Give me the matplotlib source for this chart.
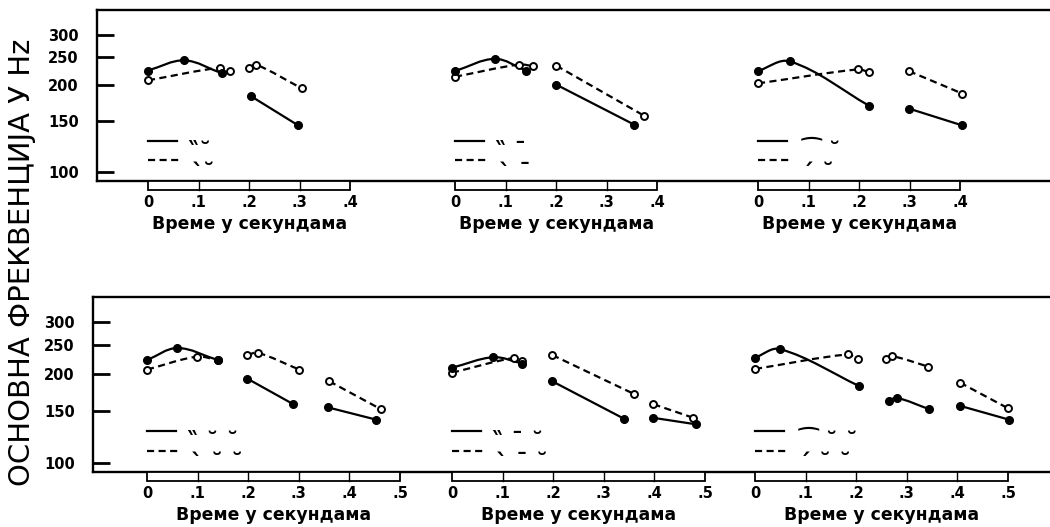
import numpy as np
import matplotlib
matplotlib.use("Agg")
import matplotlib.pyplot as plt
from matplotlib.path import Path
from matplotlib.patches import PathPatch, Rectangle

plt.rcParams['font.family'] = ['DejaVu Sans']

# frequency axis (log scale, Hz)
freq_ticks = [100, 150, 200, 250, 300]
freq_labels = ["100", "150", "200", "250", "300"]

# time scales under each panel (seconds)
time_ticks_top = [0.0, 0.1, 0.2, 0.3, 0.4]
time_labels_top = ["0", ".1", ".2", ".3", ".4"]
time_ticks_bottom = [0.0, 0.1, 0.2, 0.3, 0.4, 0.5]
time_labels_bottom = ["0", ".1", ".2", ".3", ".4", ".5"]

time_label = "Време у секундама"
freq_label = "ОСНОВНА ФРЕКВЕНЦИЈА У Hz"

# accent patterns for the two curves in every panel
# (\u00a0\u030f is a double grave accent on a no-break space)
legend_solid = ["\u00a0\u030f˘", "\u00a0\u030f ˉ", "⁀ ˘",
                "\u00a0\u030f ˘ ˘", "\u00a0\u030f ˉ ˘", "⁀ ˘ ˘"]
legend_dashed = ["ˋ˘", "ˋ ˉ", "ˊ ˘", "ˋ ˘ ˘", "ˋ ˉ ˘", "ˊ ˘ ˘"]

# F0 contours, one list per syllable
r1c1_solid_t = [[0.0, 0.072, 0.146], [0.204, 0.297]]
r1c1_solid_f = [[225, 244, 220], [183, 145]]
r1c1_dashed_t = [[0.0, 0.142, 0.163], [0.2, 0.213, 0.304]]
r1c1_dashed_f = [[208, 230, 224], [230, 236, 195]]

r1c2_solid_t = [[0.0, 0.079, 0.14], [0.2, 0.354]]
r1c2_solid_f = [[224, 247, 225], [201, 146]]
r1c2_dashed_t = [[0.0, 0.126, 0.155], [0.2, 0.373]]
r1c2_dashed_f = [[214, 236, 233], [234, 157]]

r1c3_solid_t = [[0.0, 0.063, 0.219], [0.298, 0.404]]
r1c3_solid_f = [[224, 242, 170], [166, 145]]
r1c3_dashed_t = [[0.0, 0.197, 0.22], [0.298, 0.404]]
r1c3_dashed_f = [[203, 227, 222], [224, 187]]

r2c1_solid_t = [[0.0, 0.06, 0.14], [0.198, 0.289], [0.358, 0.453]]
r2c1_solid_f = [[223, 245, 223], [193, 158], [154, 140]]
r2c1_dashed_t = [[0.0, 0.098, 0.14], [0.198, 0.219, 0.301], [0.36, 0.462]]
r2c1_dashed_f = [[207, 229, 223], [232, 236, 207], [189, 152]]

r2c2_solid_t = [[0.0, 0.082, 0.139], [0.198, 0.34], [0.398, 0.482]]
r2c2_solid_f = [[210, 228, 217], [189, 141], [142, 135]]
r2c2_dashed_t = [[0.0, 0.123, 0.138], [0.198, 0.36], [0.398, 0.477]]
r2c2_dashed_f = [[202, 227, 221], [232, 171], [158, 142]]

r2c3_solid_t = [[0.0, 0.049, 0.206], [0.264, 0.28, 0.344], [0.405, 0.502]]
r2c3_solid_f = [[227, 243, 182], [162, 166, 152], [156, 140]]
r2c3_dashed_t = [[0.0, 0.183, 0.203], [0.258, 0.27, 0.342], [0.405, 0.5]]
r2c3_dashed_f = [[208, 233, 224], [224, 230, 212], [187, 153]]

panels = [
    (r1c1_solid_t, r1c1_solid_f, r1c1_dashed_t, r1c1_dashed_f),
    (r1c2_solid_t, r1c2_solid_f, r1c2_dashed_t, r1c2_dashed_f),
    (r1c3_solid_t, r1c3_solid_f, r1c3_dashed_t, r1c3_dashed_f),
    (r2c1_solid_t, r2c1_solid_f, r2c1_dashed_t, r2c1_dashed_f),
    (r2c2_solid_t, r2c2_solid_f, r2c2_dashed_t, r2c2_dashed_f),
    (r2c3_solid_t, r2c3_solid_f, r2c3_dashed_t, r2c3_dashed_f),
]

W, H = 1050, 527
PX_PER_SEC = 506
YLIM = (93, 365)
DASH = (0, (3.2, 2.0))
KEY_SIZE = 17

fig = plt.figure(figsize=(W / 100, H / 100), dpi=100)


def px_axes(left, top, right, bottom):
    return fig.add_axes([left / W, 1 - bottom / H, (right - left) / W, (bottom - top) / H])


def smooth_path(ax, t, f):
    # smooth curve through the points, built in display space
    pts = ax.transData.transform(np.column_stack([t, f]))
    verts = [pts[0]]
    codes = [Path.MOVETO]
    if len(pts) < 3:
        verts.append(pts[1])
        codes.append(Path.LINETO)
    else:
        n = len(pts)
        for i in range(n - 1):
            p0, p1 = pts[i], pts[i + 1]
            d = np.linalg.norm(p1 - p0) / 3
            tan0 = p1 - p0 if i == 0 else pts[i + 1] - pts[i - 1]
            tan1 = p1 - p0 if i + 1 == n - 1 else pts[i + 2] - pts[i]
            c1 = p0 + tan0 / np.linalg.norm(tan0) * d
            c2 = p1 - tan1 / np.linalg.norm(tan1) * d
            verts += [c1, c2, p1]
            codes += [Path.CURVE4] * 3
    verts = ax.transData.inverted().transform(np.array(verts))
    return Path(verts, codes)


rows = [
    dict(top=10, bottom=181, left=97, origins=[148, 455, 758],
         ticks=time_ticks_top, labels=time_labels_top),
    dict(top=297, bottom=472, left=93, origins=[147, 452, 755],
         ticks=time_ticks_bottom, labels=time_labels_bottom),
]

k = 0
for row in rows:
    box = px_axes(row['left'], row['top'], 1062, row['bottom'])
    box.set_yscale('log')
    box.set_ylim(*YLIM)
    box.yaxis.set_minor_locator(matplotlib.ticker.NullLocator())
    box.set_yticks(freq_ticks, labels=freq_labels, fontsize=10.5, fontweight='bold')
    box.tick_params(axis='y', direction='in', length=12, width=2, pad=13)
    box.set_xticks([])
    box.spines['right'].set_visible(False)
    for s in box.spines.values():
        s.set_linewidth(1.7)

    height_px = row['bottom'] - row['top']
    bar_h = 9 / height_px
    bar_len = row['ticks'][-1]
    key_solid_y, key_dashed_y = 0.235, 0.12
    key_gap_px = (key_solid_y - key_dashed_y) * height_px
    for x0 in row['origins']:
        solid_t, solid_f, dashed_t, dashed_f = panels[k]
        ax = px_axes(x0, row['top'], x0 + bar_len * PX_PER_SEC, row['bottom'])
        ax.patch.set_alpha(0)
        for s in ax.spines.values():
            s.set_visible(False)
        ax.set_yscale('log')
        ax.set_ylim(*YLIM)
        ax.set_xlim(0, bar_len)
        ax.set_yticks([])
        ax.yaxis.set_minor_locator(matplotlib.ticker.NullLocator())
        ax.set_xticks(row['ticks'], labels=row['labels'], fontsize=10.5, fontweight='bold')
        ax.tick_params(axis='x', length=0, pad=10)
        ax.set_xlabel(time_label, fontsize=12.4, fontweight='bold', labelpad=4)

        # time scale bar hanging under the frame
        trans = ax.get_xaxis_transform()
        ax.add_patch(Rectangle((0, -bar_h), bar_len, bar_h, transform=trans,
                               facecolor='white', edgecolor='black', lw=1.3, clip_on=False))
        for tk in row['ticks'][1:-1]:
            ax.plot([tk, tk], [-bar_h, 0], transform=trans, color='black', lw=1.0, clip_on=False)

        for seg_t, seg_f in zip(dashed_t, dashed_f):
            ax.add_patch(PathPatch(smooth_path(ax, seg_t, seg_f), fill=False, color='black',
                                   lw=1.6, ls=DASH, clip_on=False))
            ax.plot(seg_t, seg_f, 'o', ms=5, mfc='white', mec='black', mew=1.4,
                    clip_on=False, zorder=3)
        for seg_t, seg_f in zip(solid_t, solid_f):
            ax.add_patch(PathPatch(smooth_path(ax, seg_t, seg_f), fill=False, color='black',
                                   lw=1.6, clip_on=False))
            ax.plot(seg_t, seg_f, 'o', ms=5.5, mfc='black', mec='black',
                    clip_on=False, zorder=4)

        # key: line samples followed by the accent patterns
        ax.plot([0, 0.058], [key_solid_y] * 2, transform=trans, color='black', lw=1.6,
                clip_on=False)
        ax.plot([0, 0.066], [key_dashed_y] * 2, transform=trans, color='black', lw=1.6,
                ls=DASH, clip_on=False)
        em_px = KEY_SIZE * 100 / 72
        ax.text(0.086, key_solid_y, legend_solid[k] + "\n" + legend_dashed[k],
                transform=trans, fontsize=KEY_SIZE, fontweight='bold',
                linespacing=key_gap_px / em_px, ha='left', va='top')
        k += 1

fig.text(22 / W, 1 - 262 / H, freq_label, rotation=90, ha='center', va='center', fontsize=21)

fig.savefig("out.png", dpi=100)
